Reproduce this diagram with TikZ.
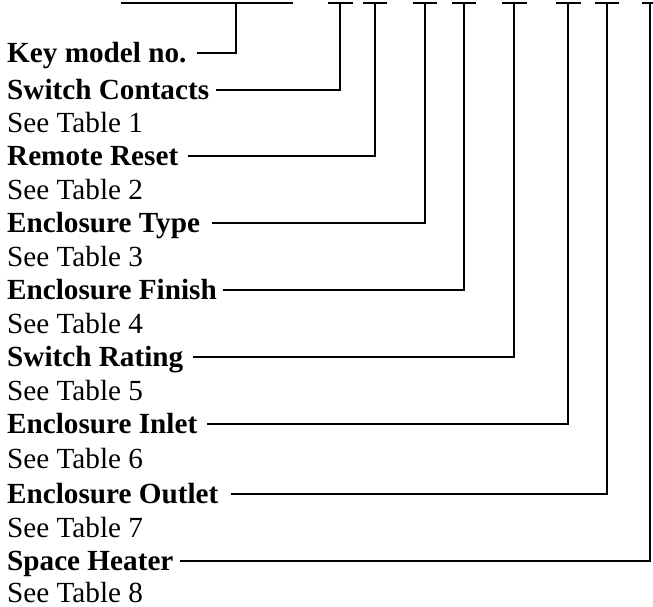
\documentclass[tikz,border=0pt]{standalone}
\usepackage{fontspec}
\setmainfont{Liberation Serif}
\begin{document}
\begin{tikzpicture}[x=1pt,y=-1pt,
  lbl/.style={anchor=base west,inner sep=0pt,font=\fontsize{29.2}{33}\selectfont\bfseries},
  sub/.style={anchor=base west,inner sep=0pt,font=\fontsize{29.2}{33}\selectfont},
  wire/.style={line width=1.5pt,line cap=butt}]
\useasboundingbox (0,0) rectangle (653,607);
% labels (baseline = row centre + 9.5)
\node[lbl] (key) at (7,62.5) {Key model no.};
\node[lbl] (sc)  at (7,99.5) {Switch Contacts};
\node[sub] (t1)  at (7,132.5) {See Table 1};
\node[lbl] (rr)  at (7,165.5) {Remote Reset};
\node[sub] (t2)  at (7,199) {See Table 2};
\node[lbl] (et)  at (7,232.5) {Enclosure Type};
\node[sub] (t3)  at (7,266) {See Table 3};
\node[lbl] (ef)  at (7,299.5) {Enclosure Finish};
\node[sub] (t4)  at (7,333) {See Table 4};
\node[lbl] (sr)  at (7,366.5) {Switch Rating};
\node[sub] (t5)  at (7,400) {See Table 5};
\node[lbl] (ei)  at (7,433.5) {Enclosure Inlet};
\node[sub] (t6)  at (7,468) {See Table 6};
\node[lbl] (eo)  at (7,503.5) {Enclosure Outlet};
\node[sub] (t7)  at (7,537) {See Table 7};
\node[lbl] (sh)  at (7,570.5) {Space Heater};
\node[sub] (t8)  at (7,602.5) {See Table 8};
% top segments
\coordinate (k0) at (121,3); \coordinate (k1) at (293,3); \coordinate (kt) at (236,3);
\coordinate (a0) at (328,3); \coordinate (a1) at (353,3); \coordinate (at1) at (340,3);
\coordinate (b0) at (363,3); \coordinate (b1) at (387,3); \coordinate (bt) at (375,3);
\coordinate (c0) at (413,3); \coordinate (c1) at (437,3); \coordinate (ct) at (425,3);
\coordinate (d0) at (452,3); \coordinate (d1) at (476,3); \coordinate (dt) at (464,3);
\coordinate (e0) at (502,3); \coordinate (e1) at (527,3); \coordinate (et1) at (514,3);
\coordinate (f0) at (556,3); \coordinate (f1) at (581,3); \coordinate (ft) at (568,3);
\coordinate (g0) at (595,3); \coordinate (g1) at (619,3); \coordinate (gt) at (607,3);
\coordinate (h0) at (642,3); \coordinate (h1) at (653,3); \coordinate (ht) at (650,3);
\foreach \p in {k,a,b,c,d,e,f,g,h} \draw[wire] (\p0) -- (\p1);
% connector start points
\coordinate (ks) at (197,53);
\coordinate (scs) at (216,90);
\coordinate (rrs) at (188,156);
\coordinate (ets) at (212,223);
\coordinate (efs) at (223,290);
\coordinate (srs) at (193,357);
\coordinate (eis) at (207,424);
\coordinate (eos) at (231,494);
\coordinate (shs) at (180,561);
\draw[wire] (ks) -| (kt);
\draw[wire] (scs) -| (at1);
\draw[wire] (rrs) -| (bt);
\draw[wire] (ets) -| (ct);
\draw[wire] (efs) -| (dt);
\draw[wire] (srs) -| (et1);
\draw[wire] (eis) -| (ft);
\draw[wire] (eos) -| (gt);
\draw[wire] (shs) -| (ht);
\end{tikzpicture}
\end{document}
